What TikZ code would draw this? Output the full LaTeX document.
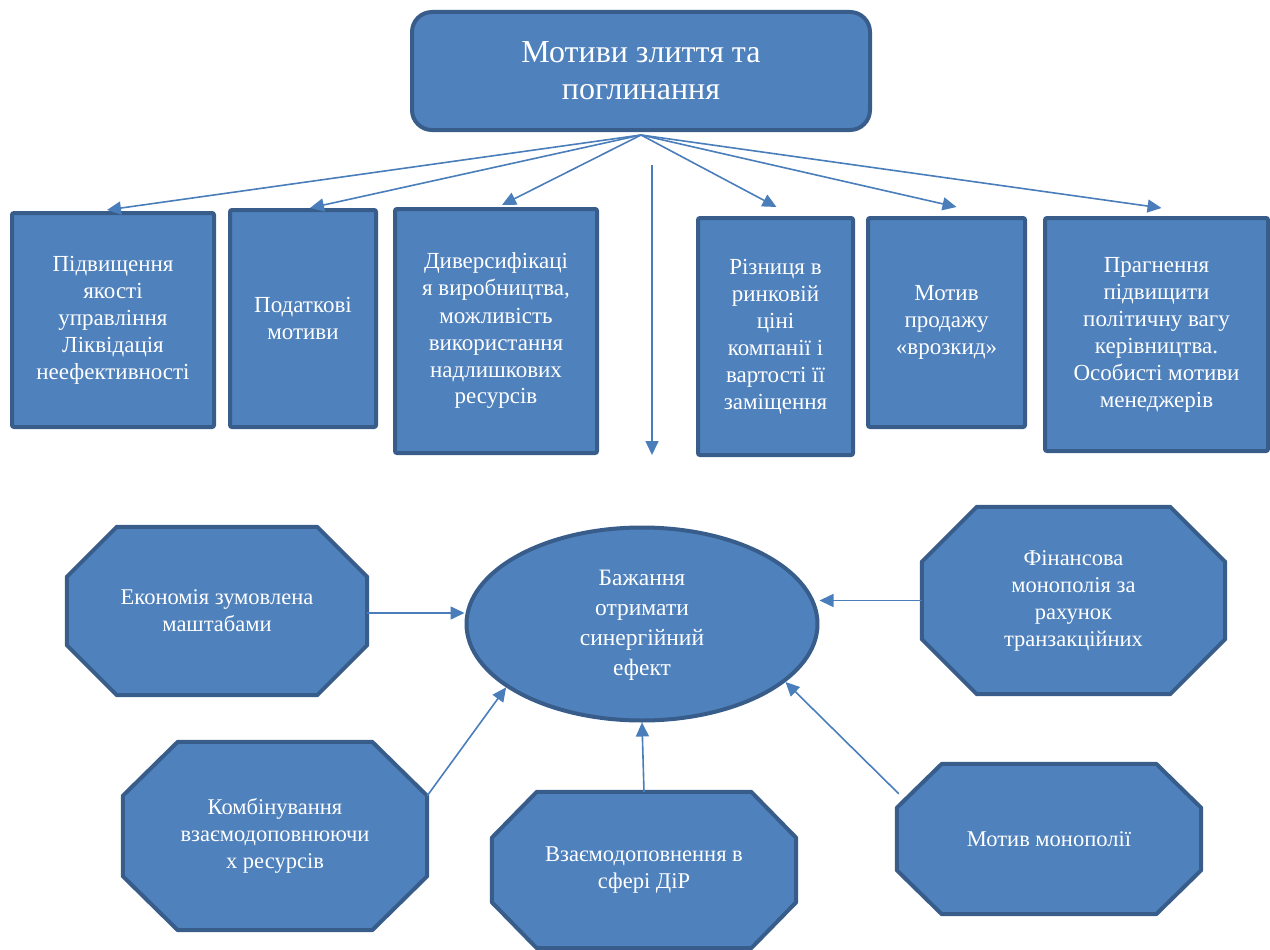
\documentclass[tikz,border=0pt]{standalone}
\usepackage{fontspec}
\setmainfont{Liberation Serif}
\usetikzlibrary{shapes.geometric,arrows.meta,calc}
\definecolor{boxfill}{HTML}{4F81BD}
\definecolor{boxline}{HTML}{385D8A}
\definecolor{arrowc}{HTML}{4A7EBB}
\pgfdeclarelayer{bg}
\pgfsetlayers{bg,main}
\tikzset{
  rbox/.style={draw=boxline, fill=boxfill, line width=4pt, rounded corners=2pt,
    text=white, align=center, inner sep=0pt, font=\fontsize{23}{27}\selectfont},
  topbox/.style={rbox, rounded corners=20pt, font=\fontsize{32}{37}\selectfont},
  ell/.style={ellipse, draw=boxline, fill=boxfill, line width=4pt, inner sep=0pt,
    text=white, align=center, font=\fontsize{23.5}{30}\selectfont},
  octtxt/.style={draw=none, inner sep=0pt, text=white, align=center,
    font=\fontsize{22.5}{27}\selectfont},
  octline/.style={draw=boxline, fill=boxfill, line width=4pt, line join=round},
  arr/.style={draw=arrowc, line width=1.6pt, -{Triangle[length=14pt,width=13pt]}},
}
\newcommand\octshape[3]{% name, cutx, cuty
  \begin{pgfonlayer}{bg}
  \path[octline] ([xshift=#2pt]#1.north west) -- ([xshift=-#2pt]#1.north east)
    -- ([yshift=-#3pt]#1.north east) -- ([yshift=#3pt]#1.south east)
    -- ([xshift=-#2pt]#1.south east) -- ([xshift=#2pt]#1.south west)
    -- ([yshift=#3pt]#1.south west) -- ([yshift=-#3pt]#1.north west) -- cycle;
  \end{pgfonlayer}}
\begin{document}
\begin{tikzpicture}[x=1pt,y=-1pt]
\useasboundingbox (0,0) rectangle (1270,950);

% top
\node[topbox, minimum width=458pt, minimum height=118pt] (top) at (641,71)
  {Мотиви злиття та\\поглинання};

% boxes
\node[rbox, minimum width=202pt, minimum height=214pt] (b1) at (113,320)
  {Підвищення\\якості\\управління\\Ліквідація\\неефективності};
\node[rbox, minimum width=146pt, minimum height=217pt] (b2) at (303,318.5)
  {Податкові\\мотиви};
\node[rbox, minimum width=202pt, minimum height=244pt] (b3) at (496,331)
  {Диверсифікаці\\я виробництва,\\можливість\\використання\\надлишкових\\ресурсів};
\node[rbox, minimum width=155pt, minimum height=237pt] (b4) at (775.5,336.5)
  {Різниця в\\ринковій\\ціні\\компанії і\\вартості її\\заміщення};
\node[rbox, minimum width=157pt, minimum height=209pt] (b5) at (946.5,322.5)
  {Мотив\\продажу\\«врозкид»};
\node[rbox, minimum width=223pt, minimum height=233pt] (b6) at (1156.5,334.5)
  {Прагнення\\підвищити\\політичну вагу\\керівництва.\\Особисті мотиви\\менеджерів};

\draw[arr] ([yshift=-3pt]top.south) -- ([xshift=-6pt,yshift=1pt]b1.north);
\draw[arr] ([yshift=-3pt]top.south) -- ([xshift=7pt,yshift=0pt]b2.north);
\draw[arr] ([yshift=-3pt]top.south) -- ([xshift=6pt,yshift=2pt]b3.north);
\draw[arr] ([yshift=-3pt]top.south) -- ([xshift=1pt,yshift=9pt]b4.north);
\draw[arr] ([yshift=-3pt]top.south) -- ([xshift=10pt,yshift=9pt]b5.north);
\draw[arr] ([yshift=-3pt]top.south) -- ([xshift=5pt,yshift=8pt]b6.north);

\coordinate (vs) at (652,165);
\coordinate (ve) at (652,455);
\draw[arr] (vs) -- (ve);

% ellipse
\node[ell, minimum width=351pt, minimum height=193pt] (e) at (642,624)
  {\raisebox{6pt}{\begin{tabular}{@{}c@{}}Бажання\\отримати\\синергійний\\ефект\end{tabular}}};

% octagons
\node[octtxt, minimum width=300pt, minimum height=168pt] (o1) at (217,611)
  {Економія зумовлена\\маштабами};
\octshape{o1}{50}{50}
\node[octtxt, minimum width=303pt, minimum height=187pt] (o2) at (1073.5,600.5)
  {Фінансова\\монополія за\\рахунок\\транзакційних};
\octshape{o2}{55}{55}
\node[octtxt, minimum width=304pt, minimum height=188pt] (o3) at (275,836)
  {Комбінування\\взаємодоповнюючи\\х ресурсів};
\octshape{o3}{55}{54}
\node[octtxt, minimum width=304pt, minimum height=156pt] (o4) at (644,870)
  {Взаємодоповнення в\\сфері ДіР};
\octshape{o4}{45}{46}
\node[octtxt, minimum width=304pt, minimum height=150pt] (o5) at (1049,839)
  {Мотив монополії};
\octshape{o5}{45}{44}

\draw[arr] ([yshift=-2pt]o1.east) -- ([yshift=-2pt]o1.east -| e.west);
\draw[arr] (o2.west) -- (o2.west -| e.east);
\draw[arr] ([yshift=-54pt]o3.north east) -- (e.205);
\draw[arr] (o4.north) -- (e.south);
\draw[arr] ([xshift=2pt,yshift=-30pt]o5.north west) -- (e.338);
\end{tikzpicture}
\end{document}
